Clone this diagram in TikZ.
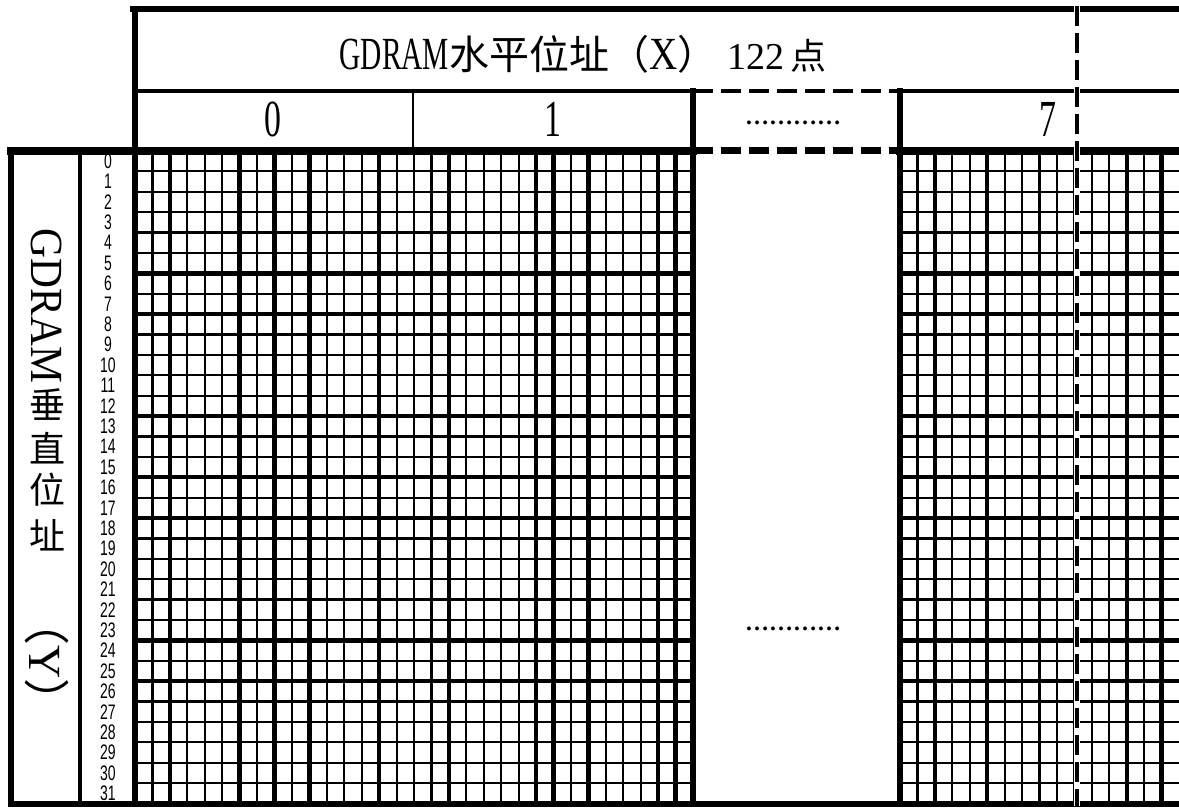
\documentclass[tikz,border=0pt]{standalone}
\usepackage{fontspec}
\setmainfont{Liberation Serif}
\newfontfamily\cjk{Noto Sans CJK SC}
\newfontfamily\narrowsans{Liberation Sans}

\begin{document}
\begin{tikzpicture}[
    x=0.5pt, y=-0.5pt,
    frame/.style={line width=3pt, line cap=rect},
    divider/.style={line width=2.4pt},
    dashdiv/.style={line width=2pt, dash pattern=on 10pt off 4pt},
    gridline/.style={line width=1.1pt},
    gridbold/.style={line width=2.2pt},
    title/.style={font=\fontsize{23}{23}\selectfont, inner sep=0pt},
    bytenum/.style={font=\fontsize{26}{26}\selectfont, inner sep=0pt},
    gapdots/.style={font=\bfseries\fontsize{12}{12}\selectfont, inner sep=0pt},
    rowno/.style={font=\narrowsans\fontsize{7}{7}\selectfont, inner sep=0pt},
    vtext/.style={font=\fontsize{23}{23}\selectfont, inner sep=0pt},
    vchar/.style={font=\cjk\fontsize{18}{18}\selectfont, inner sep=0pt}
]
\useasboundingbox (0,0) rectangle (1179,808);

% pixel grid, two byte blocks
\foreach \r in {1,...,31}{
    \draw[gridline] (135,{151+\r*20.39}) -- (693,{151+\r*20.39});
    \draw[gridline] (900,{151+\r*20.39}) -- (1179,{151+\r*20.39});
}
\foreach \c in {1,...,31}
    \draw[gridline] ({135+\c*17.44},151) -- ({135+\c*17.44},803);
\foreach \c in {1,...,15}
    \draw[gridline] ({900+\c*17.44},151) -- ({900+\c*17.44},803);
\foreach \r in {6,8,13,16,18,24,26}{
    \draw[gridbold] (135,{151+\r*20.39}) -- (693,{151+\r*20.39});
    \draw[gridbold] (900,{151+\r*20.39}) -- (1179,{151+\r*20.39});
}
\foreach \c in {2,6,8,10,14,18,23,24,26,30,31}
    \draw[gridbold] ({135+\c*17.44},151) -- ({135+\c*17.44},803);
\foreach \c in {2,5,13,15}
    \draw[gridbold] ({900+\c*17.44},151) -- ({900+\c*17.44},803);

% header and outer frame
\draw[frame] (133,9) -- (1179,9);
\draw[frame] (135,9) -- (135,803);
\draw[divider] (135,91) -- (693,91);
\draw[dashdiv] (693,91) -- (900,91);
\draw[divider] (900,91) -- (1179,91);
\draw[line width=1.2pt] (413,91) -- (413,151);
\draw[frame] (693,91) -- (693,803);
\draw[frame] (900,91) -- (900,803);
\draw[frame, line width=3.8pt] (11,151) -- (693,151);
\draw[dashdiv, line width=3.5pt] (693,151) -- (900,151);
\draw[frame, line width=3.8pt] (900,151) -- (1179,151);
\draw[frame] (11,151) -- (11,803.5) -- (1179,803.5);
\draw[divider] (80,151) -- (80,803);

% column 122 marker
\draw[white, line width=3pt] (1077,6) -- (1077,806);
\draw[line width=1.8pt, dash pattern=on 10pt off 3.5pt] (1077,6) -- (1077,806);

\node[title] (xtitle) at (583,54) {\scalebox{0.64}[1]{GDRAM}{\cjk\fontsize{20}{20}\selectfont 水平位址（}\scalebox{0.85}[1]{X}{\cjk\fontsize{20}{20}\selectfont ）}\hspace{5pt}{\fontsize{19}{19}\selectfont 122}\hspace{3pt}{\cjk\fontsize{18}{18}\selectfont 点}};

\node[bytenum] (byte0) at (273,119) {\scalebox{0.65}[1]{0}};
\node[bytenum] (byte1) at (553,119) {\scalebox{0.65}[1]{1}};
\node[gapdots] (gaphead) at (793,123) {…………};
\node[bytenum] (byte7) at (1048,119) {\scalebox{0.65}[1]{7}};
\node[gapdots] (gapgrid) at (793,629) {…………};

\foreach \r in {0,...,31}
    \node[rowno] (rowno\r) at (108,{151+(\r+0.5)*20.39}) {\scalebox{1}[1.5]{\r}};

\node[vtext] (ygdram) at (47,306) {\rotatebox{-90}{\scalebox{0.9}[1]{GDRAM}}};
\node[vchar] (ychui) at (47,405) {垂};
\node[vchar] (yzhi) at (47,448) {直};
\node[vchar] (ywei) at (47,490) {位};
\node[vchar] (yzhi2) at (47,535) {址};
\node[vtext] (yaxis) at (47,662) {\rotatebox{-90}{{\cjk （}Y{\cjk ）}}};
\end{tikzpicture}
\end{document}
